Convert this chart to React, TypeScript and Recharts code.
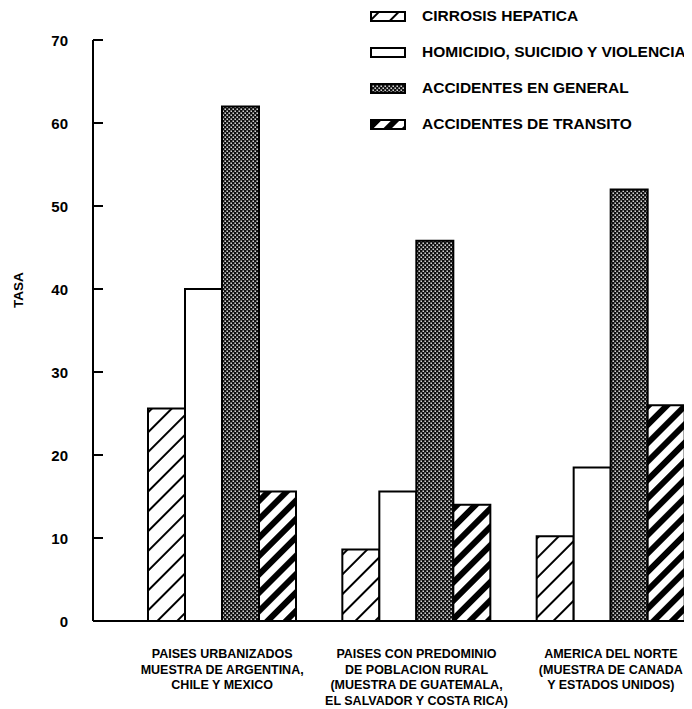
import { BarChart, Bar, XAxis, YAxis, Legend } from "recharts";

const FONT = "'Liberation Sans', Arial, Helvetica, sans-serif";

const groups = ["urbanizados", "rural", "norte"];
const groupLabels = [
  ["PAISES URBANIZADOS", "MUESTRA DE ARGENTINA,", "CHILE Y MEXICO"],
  ["PAISES CON PREDOMINIO", "DE POBLACION RURAL", "(MUESTRA DE GUATEMALA,", "EL SALVADOR Y COSTA RICA)"],
  ["AMERICA DEL NORTE", "(MUESTRA DE CANADA", "Y ESTADOS UNIDOS)"],
];

const cirrosis = [25.6, 8.6, 10.2];
const homicidio = [40, 15.6, 18.5];
const generales = [62, 45.8, 52];
const transito = [15.6, 14, 26];

const yTicks = [0, 10, 20, 30, 40, 50, 60, 70];

const series = [
  { key: "cirrosis", name: "CIRROSIS HEPATICA", fill: "url(#patCirrosis)" },
  { key: "homicidio", name: "HOMICIDIO, SUICIDIO Y VIOLENCIA", fill: "#fff" },
  { key: "generales", name: "ACCIDENTES EN GENERAL", fill: "url(#patGeneral)" },
  { key: "transito", name: "ACCIDENTES DE TRANSITO", fill: "url(#patTransito)" },
];

const data = groups.map((g, i) => ({
  name: g,
  cirrosis: cirrosis[i],
  homicidio: homicidio[i],
  generales: generales[i],
  transito: transito[i],
}));

function XTick(props: any) {
  const { x, y, payload } = props;
  const lines = groupLabels[groups.indexOf(payload.value)] || [];
  return (
    <g>
      {lines.map((l, i) => (
        <text
          key={i}
          x={x}
          y={y + 33 + i * 15.5}
          textAnchor="middle"
          dominantBaseline="central"
          fontSize={12.5}
          fontWeight="bold"
          fontFamily={FONT}
          fill="#000"
        >
          {l}
        </text>
      ))}
    </g>
  );
}

function YTick(props: any) {
  const { x, y, payload } = props;
  return (
    <g>
      <line x1={x} y1={y} x2={x + 10} y2={y} stroke="#000" strokeWidth={2} />
      <text
        x={x - 25}
        y={y}
        textAnchor="end"
        dominantBaseline="central"
        fontSize={15}
        fontWeight="bold"
        fontFamily={FONT}
        fill="#000"
      >
        {payload.value}
      </text>
    </g>
  );
}

function TasaLabel() {
  return (
    <text
      x={10}
      y={282}
      transform="rotate(-90 10 282)"
      textAnchor="middle"
      dominantBaseline="central"
      fontSize={13.5}
      fontWeight="bold"
      fontFamily={FONT}
      fill="#000"
    >
      TASA
    </text>
  );
}

function LegendBox() {
  return (
    <div style={{ whiteSpace: "nowrap", fontFamily: FONT }}>
      {series.map((s) => (
        <div key={s.key} style={{ height: 36, display: "flex", alignItems: "center" }}>
          <svg width={36} height={11} style={{ display: "block" }}>
            <rect x={1} y={1} width={34} height={9} fill={s.fill} stroke="#000" strokeWidth={2} />
          </svg>
          <span style={{ marginLeft: 16, fontSize: 15.5, fontWeight: "bold", color: "#000" }}>{s.name}</span>
        </div>
      ))}
    </div>
  );
}

export default function App() {
  return (
    <div style={{ width: 684, height: 700, overflow: "hidden", fontFamily: FONT }}>
      <BarChart
        width={700}
        height={700}
        data={data}
        margin={{ top: 32, right: 0, left: 0, bottom: 0 }}
        barGap={0}
      >
        <defs>
          <pattern id="patCirrosis" patternUnits="userSpaceOnUse" width={14} height={14} patternTransform="rotate(45)">
            <rect width={14} height={14} fill="#fff" />
            <line x1={7} y1={0} x2={7} y2={14} stroke="#000" strokeWidth={2} />
          </pattern>
          <pattern id="patTransito" patternUnits="userSpaceOnUse" width={13} height={13} patternTransform="rotate(45)">
            <rect width={13} height={13} fill="#fff" />
            <rect x={3} y={0} width={6} height={13} fill="#000" />
          </pattern>
          <pattern id="patGeneral" patternUnits="userSpaceOnUse" width={4} height={4}>
            <rect width={4} height={4} fill="#111" />
            <rect x={0.5} y={0.5} width={1.4} height={1.4} fill="#fff" />
            <rect x={2.5} y={2.5} width={1.4} height={1.4} fill="#fff" />
          </pattern>
        </defs>
        <XAxis
          dataKey="name"
          height={87}
          padding={{ left: 32, right: 0 }}
          tickSize={0}
          tickMargin={0}
          tickLine={false}
          tick={XTick}
          interval={0}
          axisLine={{ stroke: "#000", strokeWidth: 2 }}
        />
        <YAxis
          type="number"
          domain={[0, 70]}
          ticks={yTicks}
          interval={0}
          width={85}
          tickSize={0}
          tickMargin={0}
          tickLine={false}
          tick={YTick}
          axisLine={{ stroke: "#000", strokeWidth: 2 }}
          label={TasaLabel}
        />
        <Legend
          layout="vertical"
          align="center"
          verticalAlign="middle"
          content={LegendBox}
          wrapperStyle={{ left: 362, top: -10, width: 330 }}
        />
        {series.map((s) => (
          <Bar
            key={s.key}
            dataKey={s.key}
            name={s.name}
            fill={s.fill}
            stroke="#000"
            strokeWidth={2}
            barSize={37}
            isAnimationActive={false}
          />
        ))}
      </BarChart>
    </div>
  );
}
